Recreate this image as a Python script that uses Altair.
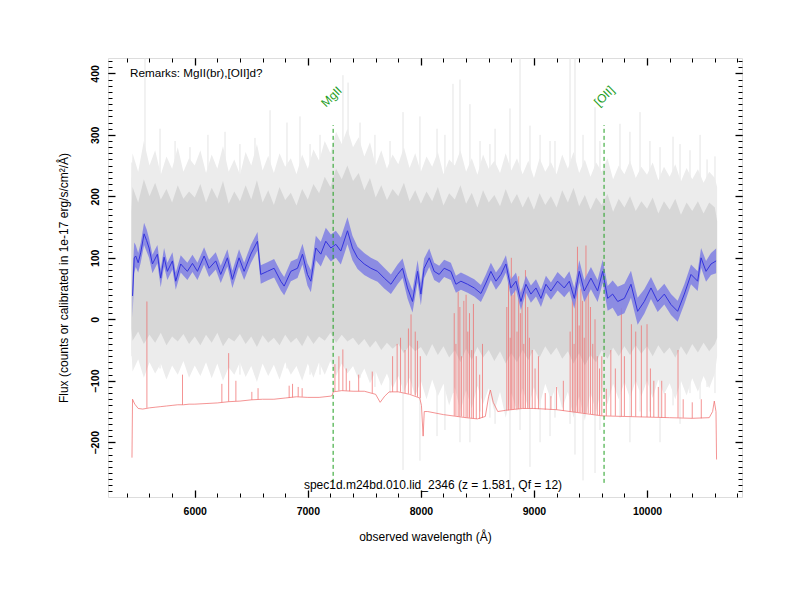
import altair as alt
import pandas as pd

FONT = "Liberation Sans"

# ---------------- data ----------------
# smoothed spectrum (blue line) and its error band
blue_wl = [5450, 5465, 5478, 5500, 5522, 5552, 5575, 5596, 5626, 5648,
           5670, 5699, 5729, 5758, 5803, 5832, 5876, 5905, 5935, 5980,
           6024, 6083, 6127, 6186, 6230, 6289, 6333, 6392, 6437, 6496,
           6555, 6584, 6643, 6702, 6761, 6791, 6850, 6909, 6953, 6997,
           7027, 7071, 7115, 7159, 7204, 7248, 7292, 7351, 7395, 7440,
           7499, 7558, 7617, 7676, 7735, 7794, 7838, 7882, 7926, 7971,
           8000, 8029, 8074, 8118, 8162, 8206, 8265, 8310, 8354, 8413,
           8472, 8531, 8575, 8619, 8664, 8708, 8752, 8796, 8841, 8885,
           8929, 8973, 9018, 9062, 9106, 9150, 9209, 9268, 9313, 9357,
           9401, 9445, 9504, 9563, 9608, 9652, 9696, 9741, 9800, 9858,
           9917, 9976, 10035, 10094, 10153, 10212, 10271, 10330, 10389, 10448,
           10478, 10522, 10566, 10611]
blue_flux = [38, 100, 103, 92, 108, 139, 128, 116, 90, 98,
             106, 67, 101, 78, 95, 62, 90, 84, 78, 91,
             78, 103, 83, 95, 73, 100, 65, 100, 78, 106,
             127, 73, 78, 83, 62, 54, 78, 83, 106, 73,
             62, 116, 106, 127, 116, 122, 111, 144, 116, 100,
             90, 83, 78, 67, 57, 73, 83, 51, 29, 78,
             41, 83, 100, 78, 73, 83, 78, 57, 62, 57,
             51, 42, 59, 78, 62, 73, 90, 51, 62, 29,
             57, 41, 51, 34, 57, 46, 62, 51, 62, 34,
             78, 46, 67, 46, 78, 34, 41, 29, 34, 57,
             13, 29, 51, 29, 41, 24, 13, 41, 73, 62,
             100, 78, 90, 95]
blue_err = [35, 25, 18, 16, 16, 18, 18, 16, 15, 15,
            15, 15, 15, 14, 14, 14, 14, 14, 14, 14,
            14, 14, 14, 14, 14, 14, 14, 14, 14, 15,
            15, 15, 15, 15, 15, 15, 16, 16, 17, 18,
            18, 20, 20, 22, 22, 22, 22, 22, 20, 18,
            18, 17, 17, 17, 16, 16, 16, 17, 18, 18,
            18, 16, 15, 14, 14, 14, 14, 14, 14, 14,
            14, 14, 14, 14, 14, 14, 14, 14, 14, 14,
            14, 14, 14, 14, 14, 14, 15, 15, 16, 17,
            18, 18, 18, 18, 19, 20, 22, 24, 24, 22,
            22, 20, 18, 17, 17, 17, 17, 16, 16, 16,
            16, 17, 18, 20]

# sky spectrum (red): continuum and emission-line peaks
red_wl = [5445, 5450, 5470, 5500, 5540, 5600, 5650, 5700, 5750, 5800,
          5850, 5900, 5950, 6000, 6100, 6200, 6300, 6400, 6500, 6600,
          6700, 6800, 6900, 7000, 7100, 7200, 7215, 7225, 7300, 7400,
          7500, 7600, 7640, 7680, 7720, 7800, 7900, 7990, 8005, 8020,
          8030, 8060, 8200, 8400, 8500, 8570, 8600, 8615, 8640, 8680,
          8750, 8900, 9000, 9200, 9400, 9600, 9800, 10000, 10200, 10400,
          10550, 10580, 10595, 10610, 10615]
red_flux = [-225, -130, -138, -145, -146, -144, -143, -142, -141, -140,
            -139, -139, -138, -138, -137, -136, -134, -133, -131, -130,
            -130, -128, -126, -127, -127, -125, -124, -118, -116, -117,
            -117, -122, -135, -125, -118, -118, -122, -128, -140, -190,
            -150, -150, -155, -160, -162, -158, -125, -115, -135, -150,
            -148, -145, -145, -147, -152, -157, -158, -159, -160, -161,
            -160, -150, -133, -150, -228]
sky_wl = [5577, 5892, 6240, 6300, 6364, 6505, 6560, 6835, 6865, 6915,
          6950, 7240, 7275, 7310, 7340, 7370, 7450, 7570, 7750, 7790,
          7820, 7860, 7890, 7913, 7950, 7970, 7995,
          8295, 8310, 8330, 8345, 8360, 8380, 8400, 8415, 8430, 8450,
          8465, 8490, 8520, 8545,
          8760, 8775, 8790, 8800, 8815, 8830, 8850, 8865, 8880, 8895,
          8910, 8925, 8945, 8960, 8985, 9010, 9040,
          9100, 9150, 9200, 9260,
          9320, 9340, 9355, 9370, 9385, 9400, 9415, 9430, 9445, 9460,
          9480, 9500, 9520, 9540, 9560, 9580, 9600,
          9640, 9680, 9720, 9773, 9800, 9862, 9900, 9950, 10000, 10030,
          10060, 10100, 10130, 10160, 10274, 10320, 10400, 10480]
sky_peak = [29, -90, -105, -55, -100, -118, -112, -108, -105, -110,
            -112, -73, -60, -49, -80, -100, -90, -85, -60, -40,
            -30, -50, -15, 8, -20, -35, -60,
            10, -40, 45, 20, -60, 30, 40, -20, 10, -50,
            25, -60, -90, -40,
            20, 60, -30, 100, 40, 60, -20, 70, 10, 50,
            -40, 80, 20, -30, -50, -80, -60,
            -120, -125, -110, -100,
            -20, 40, -40, 60, 118, -10, 50, 30, -30, 120,
            70, 20, -40, 0, -60, -80, -60,
            -113, -50, -80, 18, -60, -8, -20, -10, -8, -80,
            -100, -110, -100, -120, -50, -130, -135, -130]
sky_base = [-144, -139, -135, -134, -133, -131, -130, -128, -127, -126,
            -126, -117, -116, -116, -116, -117, -117, -120, -118, -118,
            -118, -120, -121, -122, -124, -126, -128,
            -157, -157, -158, -158, -158, -159, -160, -160, -160, -161,
            -161, -162, -162, -160,
            -148, -148, -147, -147, -147, -146, -146, -146, -145, -145,
            -145, -145, -145, -145, -145, -146, -146,
            -147, -147, -147, -149,
            -150, -150, -151, -151, -151, -152, -152, -152, -153, -153,
            -153, -154, -155, -155, -156, -156, -157,
            -157, -157, -157, -158, -158, -158, -158, -159, -159, -159,
            -159, -159, -160, -160, -160, -160, -161, -161]

# observed spectrum (grey): dense core and lighter envelope, every 50 A
gray_wl = [5440] + [w for w in range(5450, 10601, 50)] + [10620]
gray_outer_hi = [230,
                 270, 240, 290, 250, 275, 235, 265, 245, 280, 240, 262,
                 250, 275, 238, 268, 245, 282, 240, 260, 235, 272, 250, 285, 242, 266, 238, 270, 248, 262, 236, 268,
                 245, 276, 258, 290, 270, 305, 285, 310, 280, 296, 265, 288, 250, 275, 245, 268, 252, 280, 246, 270,
                 240, 265, 248, 272, 236, 260, 250, 275, 240, 262, 235, 268, 245, 258, 238, 270, 242, 262, 236, 258,
                 230, 262, 240, 256, 236, 268, 245, 272, 238, 260, 232, 255, 240, 262, 228, 250, 236, 258, 230, 248,
                 235, 255, 226, 248, 232, 252, 224, 246, 228, 244, 222, 240, 230,
                 215]
gray_inner_hi = [175,
                 215, 190, 228, 200, 222, 195, 212, 190, 218, 196, 208,
                 198, 220, 190, 214, 196, 225, 188, 208, 192, 218, 195, 226, 190, 210, 186, 215, 194, 206, 185, 212,
                 195, 220, 205, 232, 215, 245, 228, 250, 225, 238, 210, 230, 198, 218, 194, 212, 200, 222, 192, 210,
                 188, 208, 192, 215, 185, 205, 195, 218, 188, 206, 182, 210, 190, 202, 184, 212, 188, 204, 182, 200,
                 178, 205, 186, 200, 182, 210, 190, 214, 184, 202, 178, 198, 186, 204, 175, 196, 182, 200, 176, 192,
                 180, 198, 172, 192, 178, 196, 170, 190, 176, 192, 172, 190, 182,
                 160]
gray_inner_lo = [-15,
                 -35, -20, -40, -25, -38, -22, -42, -28, -36, -24, -40,
                 -28, -42, -25, -38, -22, -44, -30, -36, -24, -40, -28, -45, -26, -38, -30, -42, -25, -38, -30, -44,
                 -26, -40, -28, -35, -22, -38, -25, -36, -30, -42, -32, -46, -35, -50, -38, -48, -40, -55, -42, -52,
                 -45, -60, -40, -58, -44, -62, -50, -70, -48, -66, -45, -62, -50, -68, -52, -72, -55, -70, -50, -66,
                 -48, -62, -44, -58, -46, -64, -52, -72, -55, -75, -58, -70, -50, -64, -46, -60, -44, -58, -42, -56,
                 -44, -60, -42, -56, -46, -62, -44, -58, -40, -54, -38, -52, -40,
                 -30]
gray_outer_lo = [-50,
                 -85, -65, -95, -70, -88, -72, -98, -75, -90, -68, -95,
                 -75, -92, -70, -96, -72, -100, -78, -90, -70, -94, -76, -102, -72, -92, -74, -98, -70, -90, -76, -100,
                 -72, -95, -70, -90, -68, -92, -72, -88, -76, -98, -80, -104, -85, -108, -88, -112, -92, -118, -95, -125,
                 -100, -130, -98, -125, -105, -140, -110, -150, -115, -145, -108, -138, -112, -150, -118, -160, -120, -150, -112, -145,
                 -110, -140, -105, -130, -108, -145, -118, -160, -125, -165, -120, -150, -110, -138, -105, -130, -102, -128, -100, -125,
                 -100, -128, -98, -122, -104, -130, -100, -124, -96, -118, -92, -112, -88,
                 -60]

# individual strong grey spikes
spike_wl = [5445, 5560, 5693, 5826, 5958, 6117, 6268, 6400, 6533, 6666,
            6816, 6931, 7020, 7108, 7311, 7356, 7462, 7594, 7727, 7842,
            7992, 8143, 8213, 8284, 8346, 8434, 8523, 8611, 8656, 8788,
            8877, 8965, 9054, 9142, 9186, 9319, 9363, 9434, 9540, 9584,
            9761, 9849, 9938, 10026, 10115, 10230, 10292, 10380, 10469, 10531,
            10601]
spike_hi = [255, 425, 310, 290, 280, 300, 305, 285, 295, 340,
            320, 330, 285, 300, 397, 385, 320, 300, 290, 337,
            330, 310, 300, 383, 390, 350, 290, 285, 310, 343,
            425, 315, 300, 290, 290, 425, 425, 300, 345, 290,
            318, 305, 337, 290, 280, 297, 285, 275, 300, 260,
            265]
spike_lo = [-60, -40, -80, -70, -85, -60, -75, -90, -90, -70,
            -80, -85, -90, -90, -60, -70, -95, -110, -120, -245,
            -230, -190, -180, -120, -200, -200, -150, -160, -170, -262,
            -180, -240, -200, -190, -160, -170, -220, -262, -250, -180,
            -160, -200, -150, -150, -200, -140, -170, -120, -130, -110,
            -120]

# emission line markers
line_names = ["MgII", "[OII]"]
line_wl = [7224, 9620]
line_top = [316, 316]
line_bottom = [-266, -266]
line_label_wl = [7210, 9622]
line_label_flux = [362, 363]

remark_text = ["Remarks: MgII(br),[OII]d?"]
remark_wl = [5428]
remark_flux = [401]
ident_text = ["spec1d.m24bd.010.lid_2346 (z = 1.581, Qf = 12)"]
ident_wl = [8107]
ident_flux = [-269]

x_major = [6000, 7000, 8000, 9000, 10000]
x_minor = [v for v in range(5400, 10801, 200)]
y_major = [-200, -100, 0, 100, 200, 300, 400]
y_minor = [v for v in range(-280, 421, 10)]

# ---------------- tables ----------------
blue_df = pd.DataFrame({"wl": blue_wl, "flux": blue_flux, "err": blue_err})
blue_df["lo"] = blue_df["flux"] - blue_df["err"]
blue_df["hi"] = blue_df["flux"] + blue_df["err"]
red_df = pd.DataFrame({"wl": red_wl, "flux": red_flux})
sky_df = pd.DataFrame({"wl": sky_wl, "peak": sky_peak, "base": sky_base})
gray_df = pd.DataFrame({"wl": gray_wl, "ohi": gray_outer_hi, "ihi": gray_inner_hi,
                        "ilo": gray_inner_lo, "olo": gray_outer_lo})
spike_df = pd.DataFrame({"wl": spike_wl, "lo": spike_lo, "hi": spike_hi})
lines_df = pd.DataFrame({"name": line_names, "wl": line_wl, "top": line_top,
                         "bottom": line_bottom, "lwl": line_label_wl,
                         "lflux": line_label_flux})
remark_df = pd.DataFrame({"t": remark_text, "wl": remark_wl, "flux": remark_flux})
ident_df = pd.DataFrame({"t": ident_text, "wl": ident_wl, "flux": ident_flux})

xs = alt.Scale(domain=[5233, 10840], nice=False, zero=False)
ys = alt.Scale(domain=[-289, 425], nice=False, zero=False)

common = dict(domain=False, grid=False, tickColor="black", zindex=3)

ax_bottom = alt.Axis(orient="bottom", values=x_major, offset=-7, tickSize=7, tickWidth=1.3,
                     labelFont=FONT, labelFontSize=10.5, labelFontWeight="bold",
                     labelColor="black", labelPadding=9, labelFlush=False,
                     labelOverlap=False, format="d",
                     title="observed wavelength (Å)", titleFont=FONT, titleFontSize=12,
                     titleFontWeight="normal", titleColor="black", titlePadding=15,
                     **common)
ax_top = alt.Axis(orient="top", values=x_major, offset=-7, tickSize=7, tickWidth=1.3,
                  labels=False, title="", **common)
ax_bottom_minor = alt.Axis(orient="bottom", values=x_minor, offset=-4, tickSize=4,
                           tickWidth=1, labels=False, title="", **common)
ax_top_minor = alt.Axis(orient="top", values=x_minor, offset=-4, tickSize=4,
                        tickWidth=1, labels=False, title="", **common)

ax_left = alt.Axis(orient="left", values=y_major, offset=-7, tickSize=7, tickWidth=1.3,
                   labelFont=FONT, labelFontSize=10.5, labelFontWeight="bold",
                   labelColor="black", labelAngle=270, labelAlign="center",
                   labelBaseline="bottom", labelPadding=8, labelFlush=False,
                   labelOverlap=False, format="d",
                   title="Flux (counts or calibrated in 1e-17 erg/s/cm²/Å)",
                   titleFont=FONT, titleFontSize=12, titleFontWeight="normal",
                   titleColor="black", titlePadding=20, **common)
ax_right = alt.Axis(orient="right", values=y_major, offset=-7, tickSize=7, tickWidth=1.3,
                    labels=False, title="", **common)
ax_left_minor = alt.Axis(orient="left", values=y_minor, offset=-4, tickSize=4,
                         tickWidth=1, labels=False, title="", **common)
ax_right_minor = alt.Axis(orient="right", values=y_minor, offset=-4, tickSize=4,
                          tickWidth=1, labels=False, title="", **common)

spikes = alt.Chart(spike_df).mark_rule(color="#e4e4e4", strokeWidth=1).encode(
    x=alt.X("wl:Q", scale=xs, axis=ax_bottom_minor),
    y=alt.Y("lo:Q", scale=ys, axis=ax_left_minor),
    y2="hi:Q",
)
outer = alt.Chart(gray_df).mark_area(color="#ececec").encode(
    x=alt.X("wl:Q", scale=xs, axis=ax_bottom),
    y=alt.Y("olo:Q", scale=ys, axis=ax_left),
    y2="ohi:Q",
)
inner = alt.Chart(gray_df).mark_area(color="#d7d7d7").encode(
    x=alt.X("wl:Q", scale=xs, axis=ax_top),
    y=alt.Y("ilo:Q", scale=ys, axis=ax_right),
    y2="ihi:Q",
)
red = alt.Chart(red_df).mark_line(color="#f06a6a", strokeWidth=0.8, opacity=0.9).encode(
    x=alt.X("wl:Q", scale=xs, axis=ax_top_minor),
    y=alt.Y("flux:Q", scale=ys, axis=ax_right_minor),
)
sky = alt.Chart(sky_df).mark_rule(color="#f06a6a", strokeWidth=0.9, opacity=0.8).encode(
    x=alt.X("wl:Q", scale=xs, axis=None),
    y=alt.Y("base:Q", scale=ys, axis=None),
    y2="peak:Q",
)
band = alt.Chart(blue_df).mark_area(color="#7f7fe4", opacity=0.85).encode(
    x=alt.X("wl:Q", scale=xs, axis=None),
    y=alt.Y("lo:Q", scale=ys, axis=None),
    y2="hi:Q",
)
bline = alt.Chart(blue_df).mark_line(color="#3434dc", strokeWidth=1).encode(
    x=alt.X("wl:Q", scale=xs, axis=None),
    y=alt.Y("flux:Q", scale=ys, axis=None),
)
dashed = alt.Chart(lines_df).mark_rule(color="#1f9e1f", strokeDash=[4, 3], strokeWidth=1).encode(
    x=alt.X("wl:Q", scale=xs, axis=None),
    y=alt.Y("bottom:Q", scale=ys, axis=None),
    y2="top:Q",
)
line_labels = alt.Chart(lines_df).mark_text(
    color="#1f9e1f", font=FONT, fontSize=12, angle=315, align="center", baseline="middle"
).encode(
    x=alt.X("lwl:Q", scale=xs, axis=None),
    y=alt.Y("lflux:Q", scale=ys, axis=None),
    text="name:N",
)
remark = alt.Chart(remark_df).mark_text(
    color="black", font=FONT, fontSize=11.7, align="left", baseline="middle"
).encode(
    x=alt.X("wl:Q", scale=xs, axis=None),
    y=alt.Y("flux:Q", scale=ys, axis=None),
    text="t:N",
)
ident = alt.Chart(ident_df).mark_text(
    color="black", font=FONT, fontSize=12, align="center", baseline="middle"
).encode(
    x=alt.X("wl:Q", scale=xs, axis=None),
    y=alt.Y("flux:Q", scale=ys, axis=None),
    text="t:N",
)

chart = alt.layer(
    spikes, outer, inner, red, sky, band, bline, dashed, line_labels, remark, ident
).resolve_axis(
    x="independent", y="independent"
).properties(
    width=634, height=439,
    autosize=alt.AutoSizeParams(type="none"),
    padding={"left": 100, "top": 50, "right": 50, "bottom": 95},
).configure_view(
    stroke="black", strokeWidth=2
).configure(
    background="white"
)

chart.save("out.html", embed_options={"renderer": "svg", "actions": False})
